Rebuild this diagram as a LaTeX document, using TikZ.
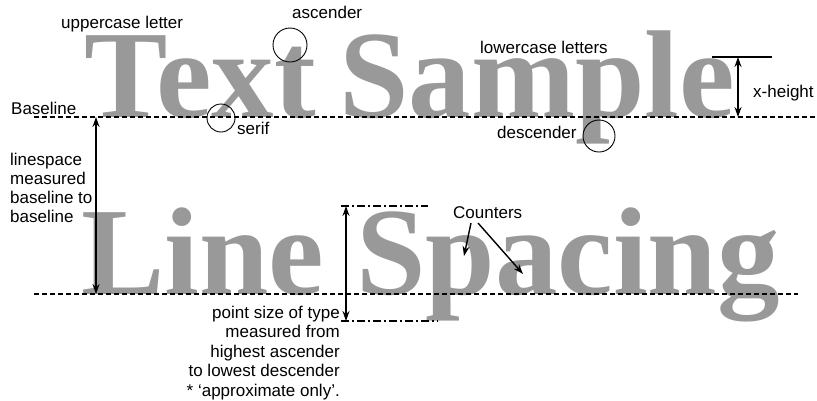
\documentclass[tikz,border=0pt]{standalone}
\usepackage{fontspec}
\setmainfont{Liberation Sans}
\newfontfamily\bigserif{Liberation Serif}
\usetikzlibrary{arrows.meta}
\definecolor{biggray}{HTML}{999999}
\begin{document}
\begin{tikzpicture}[x=1pt,y=-1pt,
 lbl/.style={inner sep=0pt, font=\fontsize{17}{19}\selectfont},
 lblb/.style={inner sep=0pt, font=\fontsize{17}{19.5}\selectfont},
 big/.style={inner sep=0pt, anchor=base west, text=biggray, font=\bigserif\bfseries\fontsize{125}{125}\selectfont},
 baseln/.style={line width=1.2pt, dash pattern=on 5pt off 3pt},
 dashdot/.style={line width=1.2pt, dash pattern=on 8pt off 3pt on 2pt off 3pt},
 dim/.style={line width=1.6pt, {Stealth[length=10pt,width=7pt]}-{Stealth[length=10pt,width=7pt]}},
 ptr/.style={line width=1.4pt, -{Stealth[length=10pt,width=7pt]}},
 ring/.style={circle, draw, line width=0.9pt, inner sep=0pt}
]
\useasboundingbox (0,0) rectangle (817,400);

% big sample words
\node[big] (text) at (84,117) {Text};
\node[big] (sample) at (339,117) {Sample};
\node[big] (line) at (81,294) {Line};
\node[big] (spacing) at (356,294) {Spacing};

% baselines
\coordinate (b1l) at (34,117);
\coordinate (b1r) at (817,117);
\coordinate (b2l) at (34,294);
\coordinate (b2r) at (798,294);
\draw[baseln] (b1l) -- (b1r);
\draw[baseln] (b2l) -- (b2r);

% circles
\node[ring, minimum size=34pt] (ascring) at (290,45) {};
\node[ring, minimum size=28pt] (serring) at (221,118) {};
\node[ring, minimum size=32pt] (descring) at (599,136) {};

% x-height
\coordinate (xha) at (712,57);
\coordinate (xhb) at (772,57);
\coordinate (xhtop) at (738,57);
\coordinate (xhbot) at (738,117);
\draw[line width=1.2pt] (xha) -- (xhb);
\draw[dim] (xhtop) -- (xhbot);

% linespace
\coordinate (lstop) at (96,117);
\coordinate (lsbot) at (96,294);
\draw[dim] (lstop) -- (lsbot);

% point size
\coordinate (pta) at (341,206);
\coordinate (ptb) at (428,206);
\coordinate (pba) at (341,321);
\coordinate (pbb) at (438,321);
\coordinate (pstop) at (346,206);
\coordinate (psbot) at (346,321);
\draw[dashdot] (pta) -- (ptb);
\draw[dashdot] (pba) -- (pbb);
\draw[dim] (pstop) -- (psbot);

% labels
\node[lbl, anchor=base west] (uc) at (61,28) {uppercase letter};
\node[lbl, anchor=base west] (ascl) at (292,18) {ascender};
\node[lbl, anchor=base west] (lcl) at (480,53) {lowercase letters};
\node[lbl, anchor=base west] (xhl) at (753,97) {x-height};
\node[lbl, anchor=base west] (bl) at (11,114) {Baseline};
\node[lbl, anchor=base west] (serl) at (237,134) {serif};
\node[lbl, anchor=base west] (descl) at (497,138) {descender};
\node[lbl, anchor=base west, align=left] (lsl) at (10,222) {linespace\\measured\\baseline to\\baseline};
\node[lblb, anchor=base east, align=right] (psl) at (340,396) {point size of type\\measured from\\highest ascender\\to lowest descender\\* ‘approximate only’.};
\node[lbl, anchor=base west] (cnt) at (453,218) {Counters};

% counters arrows
\coordinate (c1s) at (471,223);
\coordinate (c1e) at (464,256);
\coordinate (c2s) at (478,223);
\coordinate (c2e) at (523,274);
\draw[ptr] (c1s) -- (c1e);
\draw[ptr] (c2s) -- (c2e);
\end{tikzpicture}
\end{document}
